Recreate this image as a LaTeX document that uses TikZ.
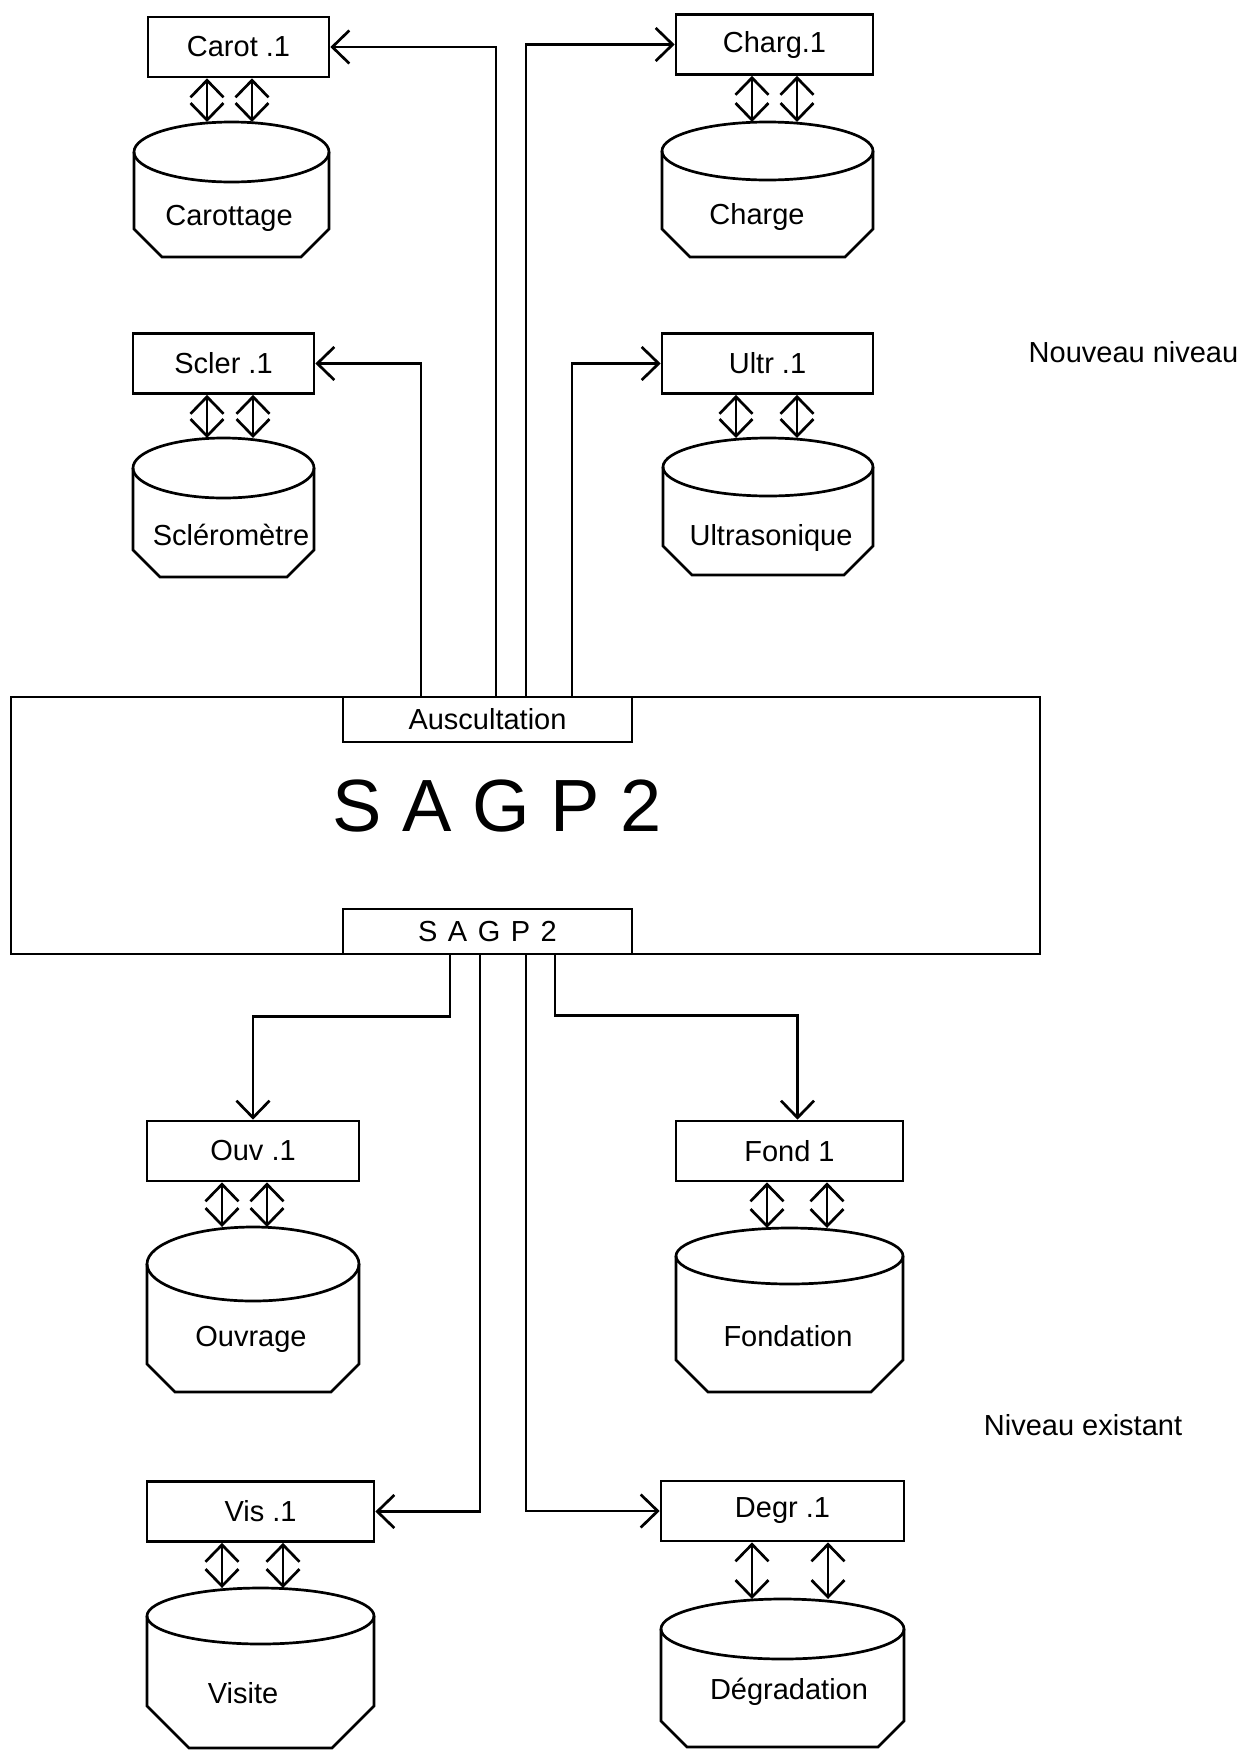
\documentclass[tikz,border=0pt]{standalone}
\usepackage{fontspec}
\setmainfont{Liberation Sans}
\usetikzlibrary{arrows.meta}

\newcommand{\dbase}[7]{%
  \coordinate (#1-top) at ({(#2+#3)/2}, #4);
  \draw ({(#2+#3)/2}, {#4+#6}) ellipse [x radius={(#3-#2)/2}, y radius=#6];
  \draw (#2, {#4+#6}) -- (#2, {#5-#7}) -- ({#2+#7}, #5)
    -- ({#3-#7}, #5) -- (#3, {#5-#7}) -- (#3, {#4+#6});
}

\begin{document}
\begin{tikzpicture}[x=1pt, y=-1pt, line width=2.7pt,
    >={Straight Barb[length=17pt, width=33pt]},
    every node/.style={font=\fontsize{29pt}{34pt}\selectfont},
    boite/.style={draw, minimum height=60pt, minimum width=#1, inner sep=0pt}]
    \useasboundingbox (0,0) rectangle (1247,1751);

    \node (carot) at (238.5, 47) [boite=181pt] {Carot .1};
    \node (charg) at (774.5, 44.5) [boite=197pt] {Charg.1};
    \node (scler) at (223.5, 363.5) [boite=181pt] {Scler .1};
    \node (ultr) at (767.5, 363.5) [boite=211pt] {Ultr .1};

    \node (sagp) at (525.5, 825.5) [draw, minimum width=1029pt, minimum height=257pt] {};
    \node (titre) at (497, 806) [font=\fontsize{74pt}{80pt}\selectfont] {S A G P 2};
    \node (ausc) at (487.5, 719.5) [boite=289pt, minimum height=45pt] {Auscultation};
    \node (petit) at (487.5, 931.5) [boite=289pt, minimum height=45pt] {{\spaceskip=10.5pt S A G P 2}};

    \node (ouv) at (253, 1151) [boite=212pt] {Ouv .1};
    \node (fond) at (789.5, 1151) [boite=227pt] {Fond 1};
    \node (vis) at (260.5, 1511.5) [boite=227pt] {Vis .1};
    \node (degr) at (782.5, 1511) [boite=243pt] {Degr .1};

    \dbase{carottage}{134}{329}{122}{257}{30}{28}
    \dbase{charge}{662}{873}{122}{257}{29}{28}
    \dbase{sclero}{133}{314}{438}{577}{30}{27}
    \dbase{ultrason}{663}{873}{438}{575}{29}{29}
    \dbase{ouvrage}{147}{359}{1227}{1392}{37}{28}
    \dbase{fondation}{676}{903}{1228}{1392}{28}{32}
    \dbase{visite}{147}{374}{1588}{1748}{28}{42}
    \dbase{degradation}{661}{904}{1599}{1747}{30}{26}

    \node (carottage) at (229, 218) {Carottage};
    \node (charge) at (757, 217) {Charge};
    \node (sclero) at (231, 535) {Scléromètre};
    \node (ultrason) at (771, 538) {Ultrasonique};
    \node (ouvrage) at (251, 1339) {Ouvrage};
    \node (fondation) at (788, 1336) {Fondation};
    \node (visite) at (243, 1693) {Visite};
    \node (degradation) at (789, 1692) {Dégradation};

    \node (nouveau) at (1133.5, 352) {Nouveau niveau};
    \node (existant) at (1083, 1425) {Niveau existant};

    \draw[->] (ausc.north -| 496,0) |- (carot);
    \draw[->] (ausc.north -| 526,0) |- (charg);
    \draw[->] (ausc.north -| 421,0) |- (scler);
    \draw[->] (ausc.north -| 572,0) |- (ultr);

    \draw[->] (petit.south -| 450,0) -- ++(0,61) -| (ouv);
    \draw[->] (petit.south -| 555,0) -- ++(0,60) -| ([xshift=8pt]fond.north);
    \draw[->] (petit.south -| 480,0) |- (vis);
    \draw[->] (petit.south -| 526,0) |- (degr);

    \draw[<->] (carot.south -| 207,0) -- (carottage-top -| 207,0);
    \draw[<->] (carot.south -| 252,0) -- (carottage-top -| 252,0);
    \draw[<->] (charg.south -| 752,0) -- (charge-top -| 752,0);
    \draw[<->] (charg.south -| 797,0) -- (charge-top -| 797,0);
    \draw[<->] (scler.south -| 207,0) -- (sclero-top -| 207,0);
    \draw[<->] (scler.south -| 253,0) -- (sclero-top -| 253,0);
    \draw[<->] (ultr.south -| 736,0) -- (ultrason-top -| 736,0);
    \draw[<->] (ultr.south -| 797,0) -- (ultrason-top -| 797,0);
    \draw[<->] (ouv.south -| 222,0) -- (ouvrage-top -| 222,0);
    \draw[<->] (ouv.south -| 267,0) -- (ouvrage-top -| 267,0);
    \draw[<->] (fond.south -| 767,0) -- (fondation-top -| 767,0);
    \draw[<->] (fond.south -| 827,0) -- (fondation-top -| 827,0);
    \draw[<->] (vis.south -| 222,0) -- (visite-top -| 222,0);
    \draw[<->] (vis.south -| 283,0) -- (visite-top -| 283,0);
    \draw[<->] (degr.south -| 752,0) -- (degradation-top -| 752,0);
    \draw[<->] (degr.south -| 828,0) -- (degradation-top -| 828,0);
\end{tikzpicture}
\end{document}
